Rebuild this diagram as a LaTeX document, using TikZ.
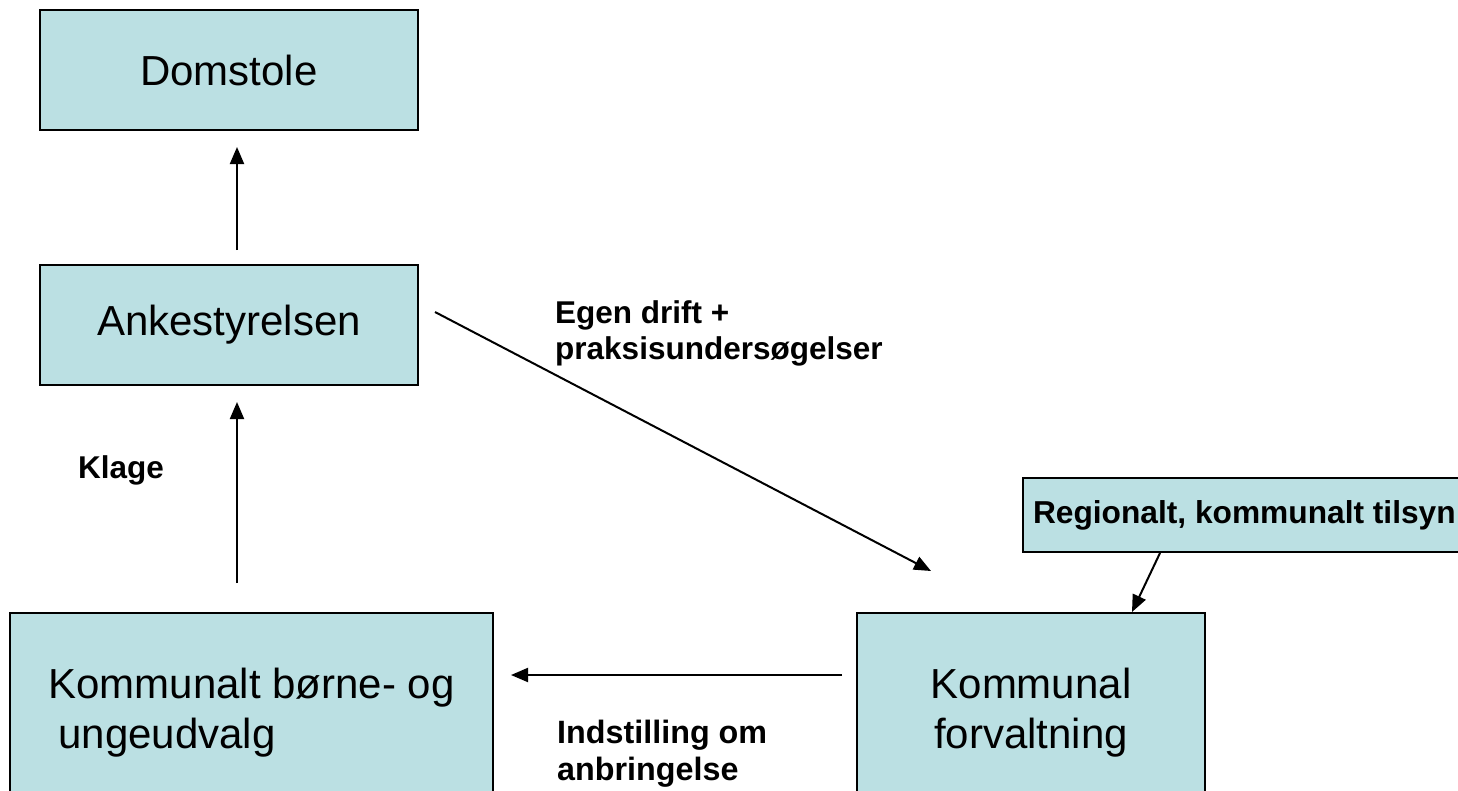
\documentclass[tikz,border=0pt]{standalone}
\usepackage{fontspec}
\setmainfont{Liberation Sans}
\usetikzlibrary{arrows.meta}
\definecolor{boxfill}{RGB}{187,224,227}
\tikzset{
  box/.style={draw=black, line width=2pt, fill=boxfill, rectangle, inner sep=0pt,
    font=\fontsize{42}{50}\selectfont},
  lbl/.style={font=\fontsize{31.5}{36}\selectfont\bfseries, align=left, inner sep=0pt},
  arr/.style={line width=2pt, -{Triangle[length=17pt,width=14pt]}}
}
\begin{document}
\begin{tikzpicture}[x=1pt,y=-1pt]
\useasboundingbox (0,0) rectangle (1458,790);
\clip (0,0) rectangle (1458,790);
\fill[white] (0,0) rectangle (1458,790);
% boxes
\node[box, minimum width=378, minimum height=120] (dom) at (229,70) {Domstole};
\node[box, minimum width=378, minimum height=120] (anke) at (229,325) {Ankestyrelsen};
\node[box, minimum width=483, minimum height=200, align=left] (bu) at (251.5,713)
  {Kommunalt børne- og\\\hspace*{10pt}ungeudvalg};
\node[box, minimum width=348, minimum height=200, align=center] (kf) at (1031,713)
  {Kommunal\\forvaltning};
\node[box, anchor=west, minimum height=74, inner xsep=10pt,
  font=\fontsize{31.7}{36}\selectfont\bfseries] (reg) at (1022,515)
  {Regionalt, kommunalt tilsyn\hspace*{40pt}};
% labels
\node[lbl, anchor=north west] (egen) at (555,300) {Egen drift +\\praksisundersøgelser};
\node[lbl, anchor=west] (klage) at (78,470) {Klage};
\node[lbl, anchor=north west, font=\fontsize{32.3}{37}\selectfont\bfseries] (indst) at (557,720) {Indstilling om\\anbringelse};
% connector end points
\coordinate (a1s) at (237,250);
\coordinate (a1e) at (237,147);
\coordinate (a2s) at (237,583);
\coordinate (a2e) at (237,402);
\coordinate (a3s) at (435,312);
\coordinate (a3e) at (931,571);
\coordinate (a4s) at (842,675);
\coordinate (a4e) at (511,675);
\coordinate (a5s) at (1160,553);
\coordinate (a5e) at (1132,612);
% connectors
\draw[arr] (a1s) -- (a1e);
\draw[arr] (a2s) -- (a2e);
\draw[arr] (a3s) -- (a3e);
\draw[arr] (a4s) -- (a4e);
\draw[arr] (a5s) -- (a5e);
\end{tikzpicture}
\end{document}
